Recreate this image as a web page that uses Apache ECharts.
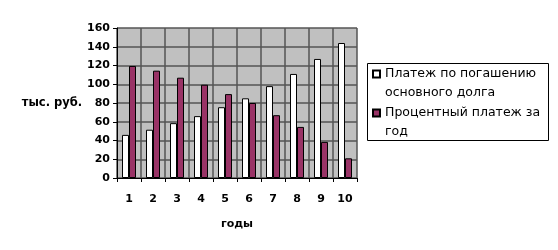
<!DOCTYPE html>
<html><head><meta charset="utf-8">
<script src="https://cdn.jsdelivr.net/npm/echarts@6/dist/echarts.min.js"></script>
<style>html,body{margin:0;padding:0;background:#fff}#c{width:558px;height:250px}</style>
</head><body><div id="c"></div>
<script>
var years = ['1','2','3','4','5','6','7','8','9','10'];
var principal = [46, 51.5, 58.5, 66, 75.5, 85, 98, 111, 127, 144];
var interest = [119.5, 114.5, 107, 99.5, 89.5, 80, 67, 54.5, 38.5, 21];
var yTicks = {min: 0, max: 160, interval: 20};
var seriesNames = ['Платеж по погашению\nосновного долга', 'Процентный платеж за\nгод'];
var yTitle = 'тыс. руб.';
var xTitle = 'годы';

var chart = echarts.init(document.getElementById('c'));
var font = 'DejaVu Sans';
chart.setOption({
  animation: false,
  textStyle: {fontFamily: font},
  grid: {left: 117, right: 201, top: 28, bottom: 72, show: true, backgroundColor: '#c0c0c0', borderWidth: 0,
         containLabel: false, outerBoundsMode: 'none'},
  legend: {
    orient: 'vertical', left: 372, top: 64.5,
    padding: 0, itemGap: 1,
    borderWidth: 0,
    itemWidth: 7, itemHeight: 26, icon: 'path://M0,0L7,0L7,7L0,7ZM0,26L0,26',
    textStyle: {fontSize: 12.5, color: '#000', lineHeight: 19, fontFamily: font},
    data: seriesNames
  },
  graphic: [{
    type: 'rect', silent: true, z: 100,
    shape: {x: 367.5, y: 63.5, width: 181, height: 77},
    style: {fill: null, stroke: '#000', lineWidth: 1}
  }],
  xAxis: {
    type: 'category', data: years,
    axisLine: {lineStyle: {color: '#000', width: 1}},
    axisTick: {show: true, alignWithLabel: false, length: 4, lineStyle: {color: '#000'}},
    axisLabel: {margin: 16, color: '#000', fontSize: 11, fontWeight: 'bold', fontFamily: font},
    splitLine: {show: true, lineStyle: {color: '#555', width: 1.5}},
    name: xTitle, nameLocation: 'middle', nameGap: 41,
    nameTextStyle: {color: '#000', fontSize: 11, fontWeight: 'bold', fontFamily: font}
  },
  yAxis: {
    type: 'value', min: yTicks.min, max: yTicks.max, interval: yTicks.interval,
    axisLine: {show: true, lineStyle: {color: '#000', width: 1}},
    axisTick: {show: true, length: 4, lineStyle: {color: '#000'}},
    axisLabel: {margin: 7, color: '#000', fontSize: 11, fontWeight: 'bold', fontFamily: font},
    splitLine: {show: true, lineStyle: {color: '#555', width: 1.5}},
    name: yTitle, nameLocation: 'middle', nameRotate: 0, nameGap: 32,
    nameTextStyle: {color: '#000', fontSize: 11.5, fontWeight: 'bold', fontFamily: font, padding: [8, 0, 0, 0]}
  },
  series: [
    {name: seriesNames[0], type: 'bar', data: principal, barWidth: 7, barGap: '0%',
     itemStyle: {color: '#ffffff', borderColor: '#000', borderWidth: 1}, emphasis: {disabled: true}},
    {name: seriesNames[1], type: 'bar', data: interest, barWidth: 7,
     itemStyle: {color: '#993366', borderColor: '#000', borderWidth: 1}, emphasis: {disabled: true}}
  ]
});
</script></body></html>
